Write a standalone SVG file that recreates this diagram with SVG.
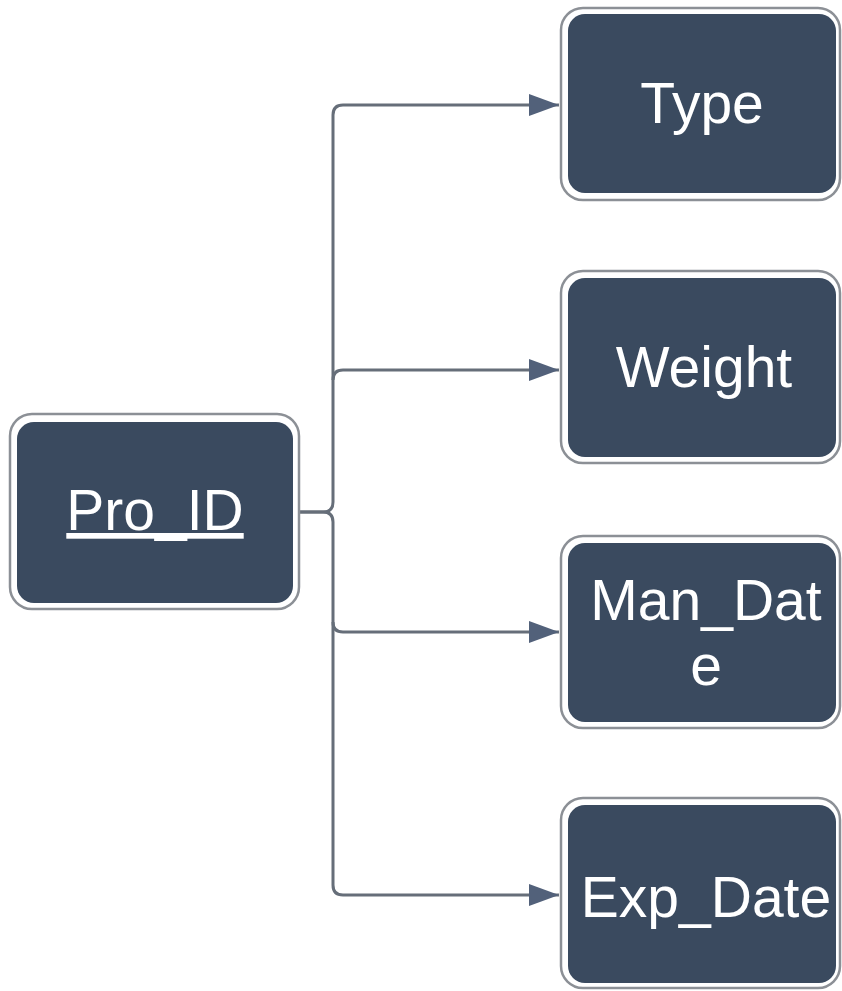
<svg xmlns="http://www.w3.org/2000/svg" width="842" height="991" viewBox="0 0 842 991">
<style>
.outer{fill:#ffffff;stroke:#8c9096;stroke-width:2.5}
.inner{fill:#3a4a5f}
.lbl{font-family:"Liberation Sans",Arial,sans-serif;font-size:57px;fill:#ffffff;text-anchor:middle}
.conn{fill:none;stroke:#666e79;stroke-width:3}
</style>
<defs>
<marker id="arr" markerUnits="userSpaceOnUse" markerWidth="32" markerHeight="24" refX="30" refY="11" orient="auto">
<path d="M0,0 L30,11 L0,22 z" fill="#52617a"/>
</marker>
</defs>
<rect width="842" height="991" fill="#ffffff"/>
<g id="connectors">
<path class="conn" d="M299,512 H323 Q333,512 333,502 V115 Q333,105 343,105 H559" marker-end="url(#arr)"/>
<path class="conn" d="M333,380 Q333,370 343,370 H559" marker-end="url(#arr)"/>
<path class="conn" d="M299,512 H323 Q333,512 333,522 V885 Q333,895 343,895 H559" marker-end="url(#arr)"/>
<path class="conn" d="M333,622 Q333,632 343,632 H559" marker-end="url(#arr)"/>
</g>
<g id="node-pro_id">
<rect class="outer" x="10" y="414" width="289" height="195" rx="22"/>
<rect class="inner" x="17" y="422" width="276" height="181" rx="17"/>
<text class="lbl" x="155" y="530" text-decoration="underline">Pro_ID</text>
</g>
<g id="node-type">
<rect class="outer" x="561" y="8" width="279" height="192" rx="22"/>
<rect class="inner" x="568" y="14" width="268" height="179" rx="17"/>
<text class="lbl" x="702" y="123">Type</text>
</g>
<g id="node-weight">
<rect class="outer" x="561" y="271" width="279" height="192" rx="22"/>
<rect class="inner" x="568" y="278" width="268" height="179" rx="17"/>
<text class="lbl" x="704" y="387">Weight</text>
</g>
<g id="node-man_date">
<rect class="outer" x="561" y="536" width="279" height="192" rx="22"/>
<rect class="inner" x="568" y="543" width="268" height="179" rx="17"/>
<text class="lbl" x="706" y="620">Man_Dat</text>
<text class="lbl" x="706" y="685">e</text>
</g>
<g id="node-exp_date">
<rect class="outer" x="561" y="798" width="279" height="190" rx="22"/>
<rect class="inner" x="568" y="805" width="268" height="178" rx="17"/>
<text class="lbl" x="706" y="917">Exp_Date</text>
</g>
</svg>
